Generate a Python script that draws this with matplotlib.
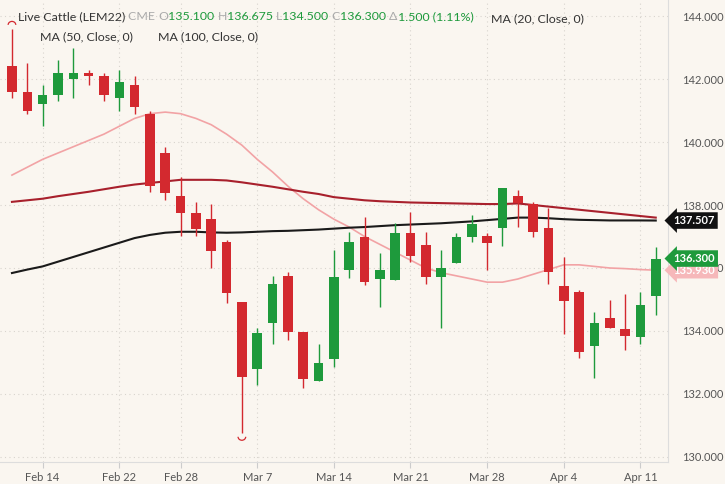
import matplotlib
matplotlib.use("Agg")
import matplotlib.pyplot as plt
from matplotlib.patches import Arc
import numpy as np

plt.rcParams["font.family"] = "Lato"

# daily OHLC, Feb 10 .. Apr 12 (trading days)
opens = [142.4, 141.6, 141.2, 141.5, 142.0, 142.2, 142.1, 141.4, 141.8, 140.9,
         139.65, 138.29, 137.75, 137.56, 136.83, 134.92, 132.8, 134.25, 135.75, 133.97,
         132.41, 133.1, 135.94, 136.98, 135.65, 135.62, 137.11, 136.73, 135.7, 136.16,
         136.98, 137.0, 137.27, 138.29, 138.03, 137.27, 135.43, 135.24, 133.52, 134.41,
         134.06, 133.8, 135.1]
closes = [141.6, 141.0, 141.5, 142.2, 142.2, 142.1, 141.5, 141.9, 141.1, 138.6,
          138.38, 137.75, 137.24, 136.54, 135.2, 132.54, 133.94, 135.49, 133.97, 132.48,
          132.98, 135.7, 136.83, 135.56, 135.94, 137.11, 136.38, 135.7, 136.0, 136.98,
          137.4, 136.8, 138.54, 138.06, 137.14, 135.87, 134.95, 133.33, 134.25, 134.1,
          133.84, 134.83, 136.3]
highs = [143.6, 142.5, 141.8, 142.6, 143.0, 142.3, 142.2, 142.3, 142.1, 141.0,
         139.84, 138.9, 138.1, 138.03, 136.9, 134.92, 134.1, 135.75, 135.87, 133.97,
         133.59, 136.57, 137.14, 137.62, 136.48, 137.43, 137.78, 137.14, 136.57, 137.1,
         137.68, 137.1, 138.54, 138.48, 138.1, 137.9, 136.35, 135.3, 134.6, 134.98,
         135.17, 135.24, 136.675]
lows = [141.4, 140.9, 140.5, 141.3, 141.4, 141.8, 141.3, 141.0, 140.9, 138.4,
        138.16, 137.0, 137.0, 136.0, 134.9, 130.76, 132.3, 133.6, 133.71, 132.19,
        132.41, 132.86, 135.68, 135.46, 134.76, 135.62, 136.2, 135.5, 134.1, 136.16,
        136.83, 135.94, 136.7, 137.3, 136.98, 135.5, 133.9, 133.14, 132.5, 134.1,
        133.4, 133.59, 134.5]

ma20 = [138.95, 139.2, 139.45, 139.65, 139.85, 140.05, 140.25, 140.5, 140.75, 140.9,
        140.95, 140.9, 140.75, 140.55, 140.25, 139.9, 139.45, 139.05, 138.6, 138.2,
        137.85, 137.55, 137.3, 137.0, 136.75, 136.5, 136.25, 136.0, 135.85, 135.75,
        135.65, 135.55, 135.55, 135.65, 135.8, 135.95, 136.1, 136.1, 136.05, 136.0,
        135.98, 135.95, 135.93]
ma50 = [138.1, 138.15, 138.2, 138.28, 138.35, 138.42, 138.5, 138.58, 138.65, 138.7,
        138.75, 138.8, 138.8, 138.8, 138.78, 138.72, 138.65, 138.58, 138.5, 138.42,
        138.35, 138.25, 138.2, 138.15, 138.12, 138.1, 138.08, 138.07, 138.06, 138.05,
        138.04, 138.03, 138.03, 138.05, 138.0, 137.95, 137.9, 137.85, 137.8, 137.75,
        137.7, 137.65, 137.6]
ma100 = [135.84, 135.95, 136.05, 136.2, 136.35, 136.5, 136.65, 136.8, 136.95, 137.05,
         137.12, 137.15, 137.15, 137.13, 137.12, 137.13, 137.15, 137.17, 137.18, 137.2,
         137.22, 137.25, 137.28, 137.3, 137.33, 137.36, 137.38, 137.4, 137.42, 137.45,
         137.48, 137.52, 137.56, 137.6, 137.6, 137.58, 137.55, 137.53, 137.52, 137.51,
         137.51, 137.51, 137.507]

tick_idx = [2, 7, 11, 16, 21, 26, 31, 36, 41]
tick_labels = ["Feb 14", "Feb 22", "Feb 28", "Mar 7", "Mar 14", "Mar 21", "Mar 28", "Apr 4", "Apr 11"]
y_ticks = [130, 132, 134, 136, 138, 140, 142, 144]

bg = "#faf6f0"
up_c = "#1e9a3c"
dn_c = "#d3292f"

fig = plt.figure(figsize=(7.25, 4.84), dpi=100, facecolor=bg)
ax = fig.add_axes([0, 0.0455, 0.9214, 0.9545], facecolor=bg)

x = np.arange(len(opens))
ax.plot(x, ma20, color="#f2a3a5", lw=1.2, zorder=2)
ax.plot(x, ma50, color="#a8202c", lw=1.5, zorder=2)
ax.plot(x, ma100, color="#1a1a1a", lw=1.5, zorder=2)

for i in x:
    c = up_c if closes[i] >= opens[i] else dn_c
    ax.vlines(i, lows[i], highs[i], color=c, lw=1, zorder=3)
    lo, hi = min(opens[i], closes[i]), max(opens[i], closes[i])
    ax.bar(i, max(hi - lo, 0.06), bottom=lo, width=0.62, color=c, zorder=4)

# high / low markers
ax.add_patch(Arc((0, max(highs) + 0.12), 0.5, 0.22, theta1=0, theta2=180, color=dn_c, lw=0.9))
imin = int(np.argmin(lows))
ax.add_patch(Arc((imin, min(lows) - 0.12), 0.5, 0.22, theta1=180, theta2=360, color=dn_c, lw=0.9))

ax.set_xlim(-0.78, 42.8)
ax.set_ylim(129.84, 144.51)
ax.set_xticks(tick_idx)
ax.set_xticklabels(tick_labels)
ax.yaxis.tick_right()
ax.set_yticks(y_ticks)
ax.set_yticklabels([f"{v:.3f}" for v in y_ticks])
ax.tick_params(axis="both", labelsize=8, colors="#555555", length=4)
ax.tick_params(axis="y", length=0, pad=10)
ax.tick_params(axis="x", color="#cccccc")
for s in ["top", "left"]:
    ax.spines[s].set_visible(False)
ax.spines["right"].set_color("#dddddd")
ax.spines["bottom"].set_color("#dddddd")
ax.grid(True, linestyle=(0, (1, 3)), color="#d8d4ce", lw=0.8)

# price tags on right axis (pink one drawn first, partly hidden as in the source)
for val, txt, fc, tc in [(137.507, "137.507", "#111111", "white"),
                         (135.93, "135.930", "#f6b8ba", "white"),
                         (136.3, "136.300", up_c, "white")]:
    ax.annotate(txt, xy=(1, val), xycoords=("axes fraction", "data"),
                xytext=(4, 0), textcoords="offset points", va="center", ha="left",
                fontsize=8, fontweight="bold", color=tc, annotation_clip=False,
                bbox=dict(boxstyle="larrow,pad=0.25", fc=fc, ec="none"))

# header legend
pieces = [("Live Cattle (LEM22) ", "#333333"), ("CME ", "#aaaaaa"),
          ("O", "#aaaaaa"), ("135.100 ", up_c), ("H", "#aaaaaa"), ("136.675 ", up_c),
          ("L", "#aaaaaa"), ("134.500 ", up_c), ("C", "#aaaaaa"), ("136.300 ", up_c),
          ("\u0394", "#aaaaaa"), ("1.500 (1.11%)", up_c)]
prev = fig.text(18 / 725, 1 - 22 / 484, "", fontsize=8.9)
for t, c in pieces:
    prev = ax.annotate(t, xy=(1, 0), xycoords=prev, va="bottom", ha="left",
                       fontsize=8.9, color=c)
fig.text(491 / 725, 1 - 22 / 484, "MA (20, Close, 0)", fontsize=8.9, color="#333333")
fig.text(40 / 725, 1 - 40 / 484, "MA (50, Close, 0)", fontsize=8.9, color="#333333")
fig.text(158 / 725, 1 - 40 / 484, "MA (100, Close, 0)", fontsize=8.9, color="#333333")

fig.savefig("out.png", dpi=100, facecolor=bg)
